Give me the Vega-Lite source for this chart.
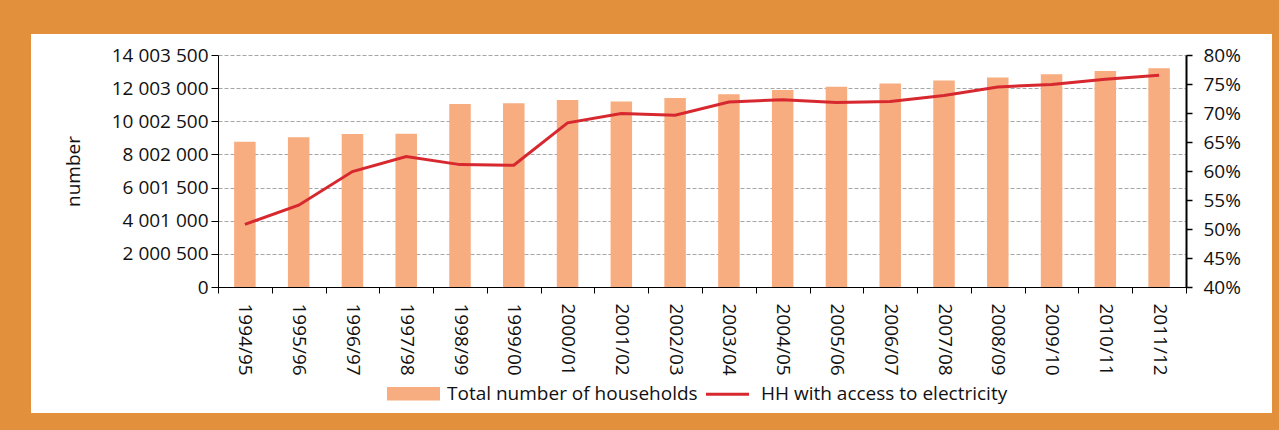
{
  "$schema": "https://vega.github.io/schema/vega-lite/v6.json",
  "width": 1241,
  "height": 379,
  "autosize": {"type": "none"},
  "padding": {"left": 31, "top": 34, "right": 7, "bottom": 17},
  "background": "#e3903d",
  "data": {
    "values": [
      {"year": "1994/95", "households": 8770000, "access": 0.508},
      {"year": "1995/96", "households": 9040000, "access": 0.541},
      {"year": "1996/97", "households": 9240000, "access": 0.599},
      {"year": "1997/98", "households": 9250000, "access": 0.625},
      {"year": "1998/99", "households": 11050000, "access": 0.611},
      {"year": "1999/00", "households": 11090000, "access": 0.610},
      {"year": "2000/01", "households": 11290000, "access": 0.683},
      {"year": "2001/02", "households": 11190000, "access": 0.699},
      {"year": "2002/03", "households": 11410000, "access": 0.696},
      {"year": "2003/04", "households": 11630000, "access": 0.719},
      {"year": "2004/05", "households": 11890000, "access": 0.723},
      {"year": "2005/06", "households": 12090000, "access": 0.718},
      {"year": "2006/07", "households": 12290000, "access": 0.720},
      {"year": "2007/08", "households": 12470000, "access": 0.730},
      {"year": "2008/09", "households": 12640000, "access": 0.745},
      {"year": "2009/10", "households": 12840000, "access": 0.749},
      {"year": "2010/11", "households": 13040000, "access": 0.758},
      {"year": "2011/12", "households": 13200000, "access": 0.765}
    ]
  },
  "encoding": {
    "x": {
      "field": "year",
      "type": "nominal",
      "sort": null,
      "scale": {"range": [187, 1155], "paddingInner": 0, "paddingOuter": 0},
      "axis": {
        "title": null,
        "orient": "bottom",
        "offset": -126,
        "labelAngle": 90,
        "tickBand": "extent",
        "tickSize": 6,
        "labelPadding": 10,
        "grid": false
      }
    }
  },
  "layer": [
    {
      "mark": {"type": "bar", "width": {"band": 0.4}},
      "encoding": {
        "y": {
          "field": "households",
          "type": "quantitative",
          "scale": {"domain": [0, 14003500], "nice": false, "zero": true, "range": [253, 21]},
          "axis": {
            "orient": "left",
            "offset": -187,
            "title": "number",
            "titlePadding": 28,
            "values": [0, 2000500, 4001000, 6001500, 8002000, 10002500, 12003000, 14003500],
            "format": ",d",
            "grid": true,
            "tickSize": 7,
            "labelPadding": 3
          }
        },
        "color": {
          "datum": "Total number of households",
          "legend": {
            "encode": {
              "symbols": {
                "update": {
                  "shape": {"signal": "datum.value === 'HH with access to electricity' ? 'M-0.86,0H0.86' : 'M-1,-0.21H1V0.21H-1Z'"},
                  "fill": {"signal": "datum.value === 'HH with access to electricity' ? 'transparent' : '#f8ad80'"},
                  "stroke": {"signal": "datum.value === 'HH with access to electricity' ? '#d7282f' : 'transparent'"},
                  "strokeWidth": {"value": 3},
                  "opacity": {"value": 1},
                  "fillOpacity": {"value": 1},
                  "strokeOpacity": {"value": 1}
                }
              }
            }
          }
        }
      }
    },
    {
      "mark": {"type": "line", "strokeWidth": 3},
      "encoding": {
        "y": {
          "field": "access",
          "type": "quantitative",
          "scale": {"domain": [0.4, 0.8], "nice": false, "zero": false, "range": [253, 21]},
          "axis": {
            "orient": "right",
            "offset": -86,
            "title": null,
            "values": [0.4, 0.45, 0.5, 0.55, 0.6, 0.65, 0.7, 0.75, 0.8],
            "format": ".0%",
            "grid": false,
            "tickSize": 6,
            "labelPadding": 11,
            "domainWidth": 2,
            "tickWidth": 1.5
          }
        },
        "color": {"datum": "HH with access to electricity"}
      }
    }
  ],
  "resolve": {"scale": {"y": "independent"}},
  "config": {
    "locale": {"number": {"decimal": ".", "thousands": " ", "grouping": [3], "currency": ["", ""]}},
    "view": {"fill": "white", "stroke": null},
    "font": "Open Sans",
    "axis": {
      "labelFont": "Open Sans",
      "labelFontSize": 19,
      "labelColor": "#111111",
      "titleFont": "Open Sans",
      "titleFontSize": 19,
      "titleFontWeight": "normal",
      "titleColor": "#111111",
      "domainColor": "#000000",
      "tickColor": "#000000",
      "gridColor": "#a6a6a6",
      "gridDash": [4, 2],
      "gridWidth": 1,
      "labelOverlap": false,
      "labelFlush": false
    },
    "range": {"category": ["#f8ad80", "#d7282f"]},
    "legend": {
      "orient": "none",
      "legendX": 356,
      "legendY": 333,
      "direction": "horizontal",
      "title": null,
      "labelFont": "Open Sans",
      "labelFontSize": 19,
      "labelColor": "#111111",
      "symbolSize": 2500,
      "labelOffset": 7,
      "columnPadding": 2,
      "labelLimit": 400
    }
  }
}
